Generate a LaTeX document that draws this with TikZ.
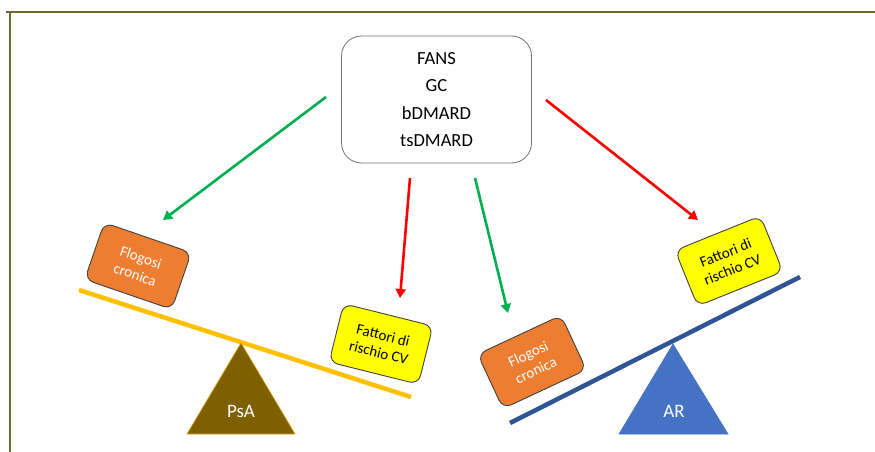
\documentclass[tikz,border=0pt]{standalone}
\usepackage{fontspec}
\setmainfont{Carlito}
\usetikzlibrary{arrows.meta}
\definecolor{frameol}{HTML}{6B6B2F}
\definecolor{grn}{HTML}{00B050}
\definecolor{rd}{HTML}{FF0000}
\definecolor{orng}{HTML}{ED7D31}
\definecolor{ylw}{HTML}{FFFF00}
\definecolor{gold}{HTML}{FFC000}
\definecolor{psa}{HTML}{7F6000}
\definecolor{arblue}{HTML}{4472C4}
\definecolor{beam}{HTML}{2F5597}
\tikzset{
  card/.style={draw=black!75, line width=0.9pt, rounded corners=9pt, minimum width=92pt, minimum height=60pt, align=center, inner sep=2pt, font=\fontsize{15}{18}\selectfont},
  hot/.style={card, fill=orng, text=white},
  risk/.style={card, fill=ylw, text=black},
  arr/.style={line width=2.6pt, -{Triangle[length=9pt,width=10pt]}},
  lbl/.style={text=white, font=\fontsize{19}{21}\selectfont}
}
\begin{document}
\begin{tikzpicture}[x=1pt,y=-1pt]
\useasboundingbox (0,0) rectangle (875,452);
\fill[white] (0,0) rectangle (875,452);
% frame
\draw[frameol, line width=2.6pt] (10,452) -- (10,12) -- (875,12);
\draw[frameol, line width=2.6pt] (6,12) -- (10,12);
% central box
\node[draw=black!55, line width=0.8pt, rounded corners=20pt, minimum width=190pt, minimum height=127pt, align=center, font=\fontsize{18.5}{27.5}\selectfont] (drugs) at (436.5,99.5) {FANS\\GC\\bDMARD\\tsDMARD};
% left seesaw
\coordinate (bL1) at (79,290);
\coordinate (bL2) at (411,397);
\draw[gold, line width=4.5pt] (bL1) -- (bL2);
\path[fill=psa, draw=gold!70!psa, line width=0.6pt] (241,343) coordinate (psaTop) -- (295,434) -- (187,434) -- cycle;
\node[lbl] (psa) at (241,411) {PsA};
\node[hot, rotate=-19] (flogL) at (138,266) {Flogosi\\cronica};
\node[risk, rotate=-14] (riskL) at (381,344) {Fattori di\\rischio CV};
% right seesaw
\coordinate (bR1) at (510,423);
\coordinate (bR2) at (800,277);
\draw[beam, line width=4.5pt] (bR1) -- (bR2);
\path[fill=arblue, draw=arblue, line width=0.6pt] (673,344) coordinate (arTop) -- (728,434) -- (619,434) -- cycle;
\node[lbl] (ar) at (674,411) {AR};
\node[hot, rotate=25] (flogR) at (532,362) {Flogosi\\cronica};
\node[risk, rotate=22] (riskR) at (729,261) {Fattori di\\rischio CV};
% arrows
\coordinate (a1s) at (326,97);  \coordinate (a1e) at (163,220);
\coordinate (a2s) at (410,178); \coordinate (a2e) at (400,298);
\coordinate (a3s) at (475,178); \coordinate (a3e) at (508,313);
\coordinate (a4s) at (546,100); \coordinate (a4e) at (698,220);
\draw[arr, grn] (a1s) -- (a1e);
\draw[arr, rd] (a2s) -- (a2e);
\draw[arr, grn] (a3s) -- (a3e);
\draw[arr, rd] (a4s) -- (a4e);
\end{tikzpicture}
\end{document}
